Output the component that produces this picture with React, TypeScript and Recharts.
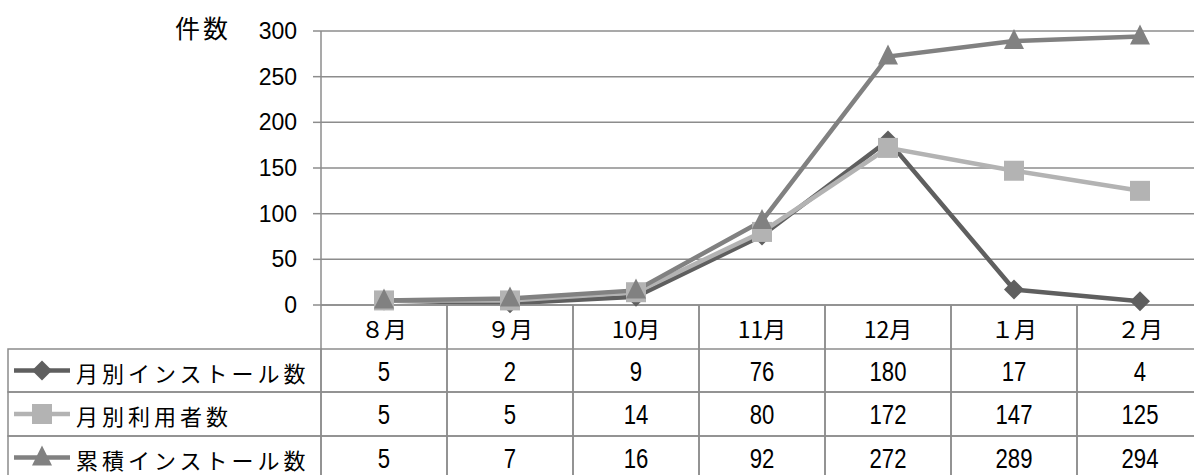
import React from 'react';
import { LineChart, Line, XAxis, YAxis, CartesianGrid } from 'recharts';

const months = ['８月', '９月', '10月', '11月', '12月', '１月', '２月'];
const monthlyInstalls = [5, 2, 9, 76, 180, 17, 4];
const monthlyUsers = [5, 5, 14, 80, 172, 147, 125];
const totalInstalls = [5, 7, 16, 92, 272, 289, 294];
const yTicks = [0, 50, 100, 150, 200, 250, 300];

const seriesNames = ['月別インストール数', '月別利用者数', '累積インストール数'];
const seriesKeys = ['installs', 'users', 'total'];
const seriesValues = [monthlyInstalls, monthlyUsers, totalInstalls];

const data = months.map((m, i) => ({
  month: m,
  installs: monthlyInstalls[i],
  users: monthlyUsers[i],
  total: totalInstalls[i],
}));

const COLORS = ['#5f5f5f', '#b3b3b3', '#818181'];
const GRID = '#8c8c8c';
const JP_FONT = "'Noto Sans CJK JP', sans-serif";
const NUM_FONT = "'Liberation Sans', 'Noto Sans CJK JP', sans-serif";

const WIDTH = 1203;
const MARGIN = { top: 31, right: 0, bottom: 0, left: 261 };
const Y_AXIS_W = 60;
const PLOT_LEFT = MARGIN.left + Y_AXIS_W;
const COL_W = (WIDTH - PLOT_LEFT - MARGIN.right) / months.length;
const TABLE_LEFT = 8;
const HEADER_H = 44;
const ROW_H = [43, 44, 43];
// bottom axes are stacked in id order: header row first, then the three data rows
const ROW_AXIS_IDS = ['r1', 'r2', 'r3'];

type Shape = 'diamond' | 'square' | 'triangle';
const SHAPES: Shape[] = ['diamond', 'square', 'triangle'];

function Marker({ shape, cx, cy, fill }: { shape: Shape; cx: number; cy: number; fill: string }) {
  if (shape === 'diamond') {
    return <path d={`M${cx},${cy - 10}L${cx + 10},${cy}L${cx},${cy + 10}L${cx - 10},${cy}Z`} fill={fill} />;
  }
  if (shape === 'square') {
    return <rect x={cx - 10} y={cy - 10} width={20} height={20} fill={fill} />;
  }
  return <path d={`M${cx},${cy - 12}L${cx + 10},${cy + 8}L${cx - 10},${cy + 8}Z`} fill={fill} />;
}

// month header cells under the plot
function MonthTick(props: any) {
  const { x, y, payload } = props;
  const left = x - COL_W / 2;
  const right = x + COL_W / 2;
  return (
    <g>
      <line x1={left} y1={y} x2={left} y2={y + HEADER_H} stroke={GRID} strokeWidth={1.5} />
      <line x1={right} y1={y} x2={right} y2={y + HEADER_H} stroke={GRID} strokeWidth={1.5} />
      <text x={x} y={y + HEADER_H / 2 + 1} textAnchor="middle" dominantBaseline="central"
        fontFamily={JP_FONT} fontSize={23} fill="#000">
        {payload.value}
      </text>
    </g>
  );
}

function makeValueTick(row: number) {
  return function ValueTick(props: any) {
    const { x, y, payload } = props;
    const h = ROW_H[row];
    const left = x - COL_W / 2;
    const right = x + COL_W / 2;
    return (
      <g>
        <line x1={left} y1={y} x2={right} y2={y} stroke={GRID} strokeWidth={1.5} />
        <line x1={left} y1={y + h} x2={right} y2={y + h} stroke={GRID} strokeWidth={1.5} />
        <line x1={left} y1={y} x2={left} y2={y + h} stroke={GRID} strokeWidth={1.5} />
        <line x1={right} y1={y} x2={right} y2={y + h} stroke={GRID} strokeWidth={1.5} />
        {/* tall, narrow digits */}
        <text transform={`translate(${x},${y + h / 2 + 1}) scale(0.82,1)`} textAnchor="middle"
          dominantBaseline="central" fontFamily={NUM_FONT} fontSize={27} fill="#000">
          {seriesValues[row][payload.index]}
        </text>
      </g>
    );
  };
}

function makeLegendCell(row: number) {
  return function LegendCell(props: any) {
    const vb = props.viewBox || {};
    const top = vb.y;
    const h = ROW_H[row];
    const cy = top + h / 2;
    return (
      <g>
        <rect x={TABLE_LEFT} y={top} width={PLOT_LEFT - TABLE_LEFT} height={h}
          fill="none" stroke={GRID} strokeWidth={1.5} />
        <line x1={14} y1={cy} x2={70} y2={cy} stroke={COLORS[row]} strokeWidth={4.5} />
        <Marker shape={SHAPES[row]} cx={42} cy={cy} fill={COLORS[row]} />
        <text x={76} y={cy + 1} dominantBaseline="central" fontFamily={JP_FONT}
          fontSize={22} letterSpacing={4} fill="#000">
          {seriesNames[row]}
        </text>
      </g>
    );
  };
}

const valueTicks = [0, 1, 2].map(makeValueTick);
const legendCells = [0, 1, 2].map(makeLegendCell);

export default function App() {
  return (
    <div style={{ position: 'fixed', left: 0, top: 0, width: 1194, height: 475, overflow: 'hidden', background: '#fff' }}>
      <LineChart width={WIDTH} height={479} data={data} margin={MARGIN}>
        <CartesianGrid vertical={false} stroke={GRID} strokeWidth={1.5} xAxisId="r0" />
        <YAxis
          domain={[0, 300]}
          ticks={yTicks}
          width={Y_AXIS_W}
          tickSize={8}
          tickMargin={16}
          axisLine={{ stroke: GRID, strokeWidth: 1.5 }}
          tickLine={{ stroke: GRID, strokeWidth: 1.5 }}
          tick={{ fill: '#000', fontSize: 23, fontFamily: NUM_FONT }}
          label={{
            content: () => (
              <text x={175} y={27} dominantBaseline="central" fontFamily={JP_FONT}
                fontSize={25} letterSpacing={3} fill="#000">件数</text>
            ),
          }}
        />
        <XAxis
          xAxisId="r0"
          dataKey="month"
          scale="band"
          height={HEADER_H}
          tickSize={0}
          tickMargin={0}
          interval={0}
          axisLine={{ stroke: GRID, strokeWidth: 1.5 }}
          tickLine={false}
          tick={<MonthTick />}
        />
        {[0, 1, 2].map((row) => {
          const Tick = valueTicks[row];
          return (
            <XAxis
              key={ROW_AXIS_IDS[row]}
              xAxisId={ROW_AXIS_IDS[row]}
              dataKey="month"
              scale="band"
              height={ROW_H[row]}
              tickSize={0}
              tickMargin={0}
              interval={0}
              axisLine={false}
              tickLine={false}
              tick={<Tick />}
              label={{ content: legendCells[row] }}
            />
          );
        })}
        {[0, 1, 2].map((row) => (
          <Line
            key={seriesKeys[row]}
            xAxisId="r0"
            dataKey={seriesKeys[row]}
            stroke={COLORS[row]}
            strokeWidth={4.5}
            isAnimationActive={false}
            dot={(p: any) => (
              <Marker key={`${seriesKeys[row]}-${p.index}`} shape={SHAPES[row]} cx={p.cx} cy={p.cy} fill={COLORS[row]} />
            )}
            activeDot={false}
          />
        ))}
      </LineChart>
    </div>
  );
}
